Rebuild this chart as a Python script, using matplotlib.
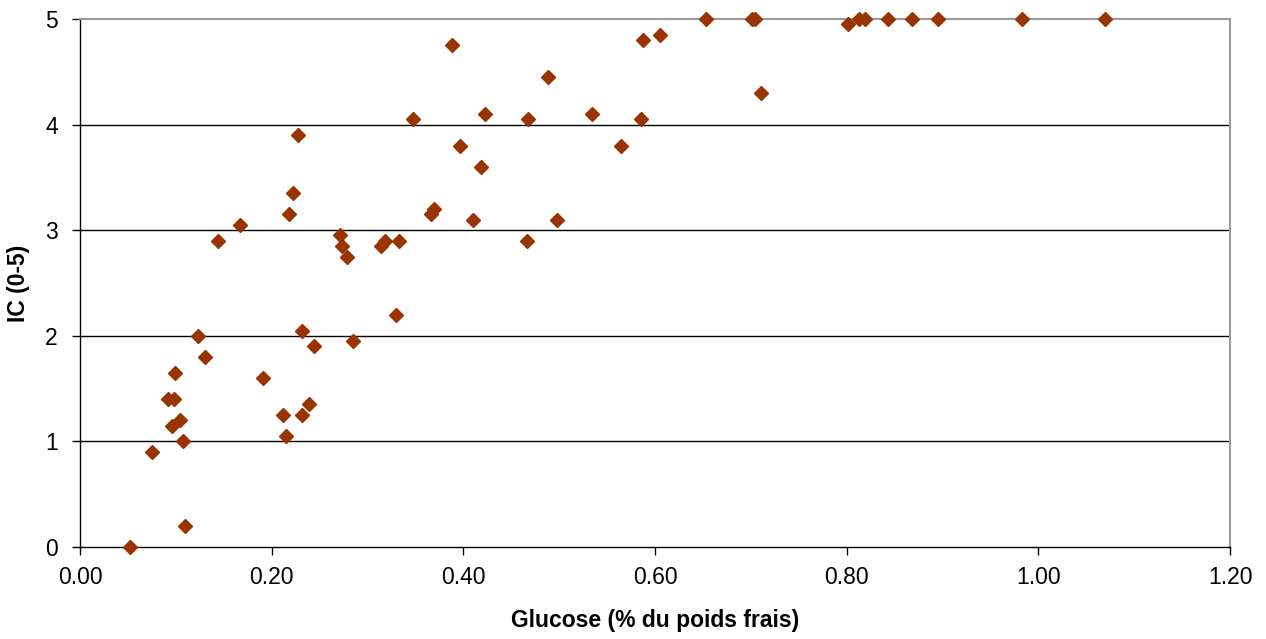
import matplotlib
matplotlib.use("Agg")
import matplotlib.pyplot as plt

glucose = [0.052, 0.075, 0.110, 0.092, 0.098, 0.096, 0.104, 0.107, 0.099, 0.123,
           0.130, 0.144, 0.167, 0.191, 0.212, 0.215, 0.218, 0.222, 0.227, 0.232,
           0.232, 0.239, 0.244, 0.271, 0.273, 0.279, 0.285, 0.314, 0.318, 0.330,
           0.333, 0.347, 0.366, 0.369, 0.388, 0.397, 0.410, 0.418, 0.423, 0.466,
           0.467, 0.488, 0.498, 0.534, 0.564, 0.585, 0.587, 0.605, 0.653, 0.701,
           0.704, 0.711, 0.801, 0.813, 0.819, 0.843, 0.868, 0.895, 0.983, 1.070]
ic = [0.00, 0.90, 0.20, 1.40, 1.40, 1.15, 1.20, 1.00, 1.65, 2.00,
      1.80, 2.90, 3.05, 1.60, 1.25, 1.05, 3.15, 3.35, 3.90, 2.05,
      1.25, 1.35, 1.90, 2.95, 2.85, 2.75, 1.95, 2.85, 2.90, 2.20,
      2.90, 4.05, 3.15, 3.20, 4.75, 3.80, 3.10, 3.60, 4.10, 2.90,
      4.05, 4.45, 3.10, 4.10, 3.80, 4.05, 4.80, 4.85, 5.00, 5.00,
      5.00, 4.30, 4.95, 5.00, 5.00, 5.00, 5.00, 5.00, 5.00, 5.00]
x_ticks = [0.0, 0.2, 0.4, 0.6, 0.8, 1.0, 1.2]
x_tick_labels = ["0.00", "0.20", "0.40", "0.60", "0.80", "1.00", "1.20"]
y_ticks = [0, 1, 2, 3, 4, 5]

plt.rcParams['font.family'] = ['Liberation Sans', 'DejaVu Sans']

fig = plt.figure(figsize=(12.66, 6.39), dpi=100)
ax = fig.add_axes([80/1266, 1-547/639, (1230-80)/1266, (547-19)/639])

for yv in y_ticks[1:-1]:
    ax.axhline(yv, color='black', lw=1.0, zorder=1)

ax.plot(glucose, ic, ls='none', marker='D', markersize=7, color='#993300',
        markeredgecolor='#993300', zorder=3, clip_on=False)

ax.set_xlim(0, 1.2)
ax.set_ylim(0, 5)
ax.set_xticks(x_ticks)
ax.set_xticklabels(x_tick_labels)
ax.set_yticks(y_ticks)

for s in ['top', 'right']:
    ax.spines[s].set_color('#9a9a9a')
    ax.spines[s].set_linewidth(1.5)
for s in ['left', 'bottom']:
    ax.spines[s].set_color('black')
    ax.spines[s].set_linewidth(1.0)

ax.tick_params(axis='both', direction='out', length=6, width=1, labelsize=16.5, color='black')
ax.tick_params(axis='x', pad=8)
ax.tick_params(axis='y', pad=10)

ax.set_xlabel("Glucose (% du poids frais)", fontsize=16.5, fontweight='bold',
              va='center', ha='center')
ax.set_ylabel("IC (0-5)", fontsize=16.5, fontweight='bold',
              va='center', ha='center')
ax.xaxis.set_label_coords(0.5, (547 - 621) / 528)
ax.yaxis.set_label_coords((18 - 80) / 1150, 0.5)

fig.savefig("out.png", dpi=100)
